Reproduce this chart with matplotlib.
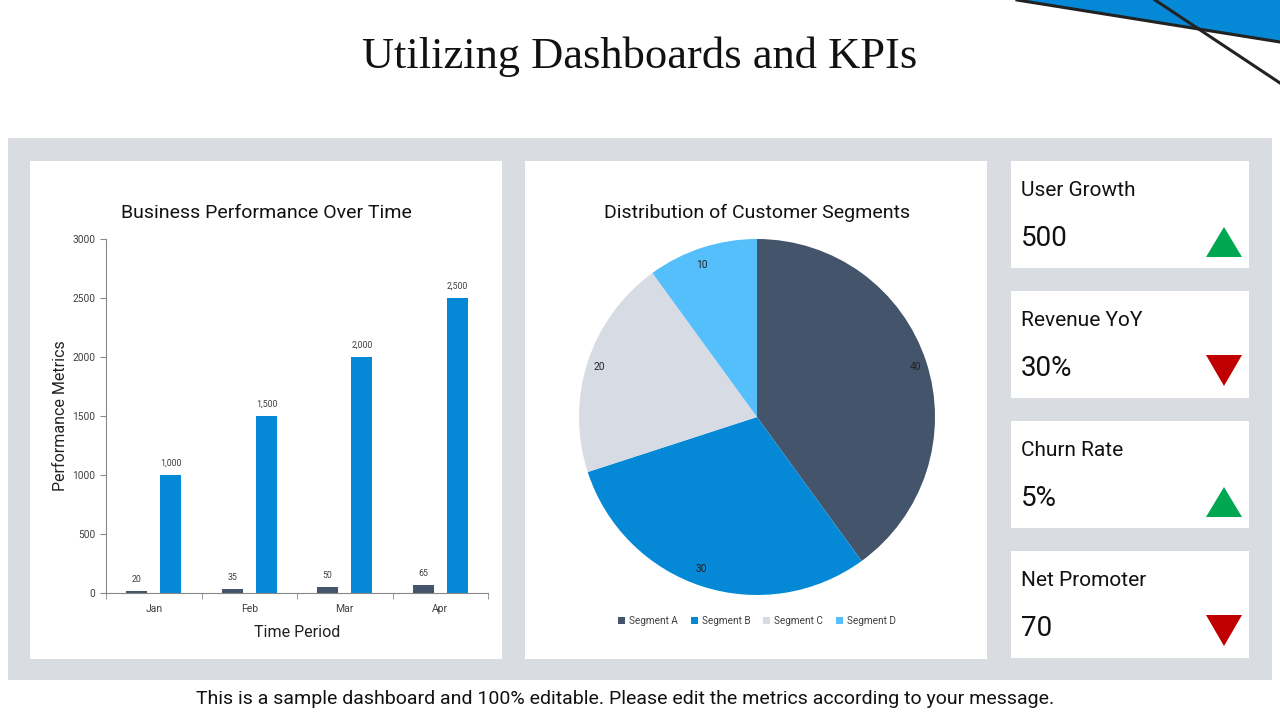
import numpy as np
import matplotlib
matplotlib.use('Agg')
import matplotlib.pyplot as plt
from matplotlib.patches import Rectangle, Polygon

plt.rcParams['font.family'] = ['Roboto', 'DejaVu Sans']

# data
months = ['Jan', 'Feb', 'Mar', 'Apr']
small_vals = [20, 35, 50, 65]
big_vals = [1000, 1500, 2000, 2500]

segments = ['Segment A', 'Segment B', 'Segment C', 'Segment D']
seg_vals = [40, 30, 20, 10]

kpi_names = ['User Growth', 'Revenue YoY', 'Churn Rate', 'Net Promoter']
kpi_values = ['500', '30%', '5%', '70']
kpi_up = [True, False, True, False]

DARK = '#44546A'
BLUE = '#0589D6'
LIGHT = '#D6DBE4'
SKY = '#55BFFC'
PANEL = '#D9DCE1'

W, H = 1280, 720
fig = plt.figure(figsize=(12.8, 7.2), dpi=100)
fig.patch.set_facecolor('white')


def frac(x0, y0, x1, y1):
    # pixel box (top-left origin) -> figure fraction
    return [x0 / W, 1 - y1 / H, (x1 - x0) / W, (y1 - y0) / H]


bg = fig.add_axes([0, 0, 1, 1])
bg.set_xlim(0, W)
bg.set_ylim(H, 0)
bg.axis('off')

# corner decoration
bg.add_patch(Polygon([(1017, 0), (1280, 0), (1280, 42)], closed=True,
                     facecolor=BLUE, edgecolor='none'))
bg.plot([1017, 1280], [0, 42], color='#222222', lw=2.2)
bg.plot([1155, 1280], [0, 83], color='#222222', lw=2.2)

bg.text(640, 57, 'Utilizing Dashboards and KPIs', ha='center', va='center',
        fontsize=32, family=['Liberation Serif', 'DejaVu Serif'], color='#111111')

# gray panel and white cards
bg.add_patch(Rectangle((8, 138), 1264, 542, facecolor=PANEL, edgecolor='none'))
bg.add_patch(Rectangle((30, 161), 472, 498, facecolor='white', edgecolor='none'))
bg.add_patch(Rectangle((525, 161), 462, 498, facecolor='white', edgecolor='none'))

card_tops = [161, 291, 421, 551]
for top, name, val, up in zip(card_tops, kpi_names, kpi_values, kpi_up):
    bg.add_patch(Rectangle((1011, top), 238, 107, facecolor='white', edgecolor='none'))
    bg.text(1021, top + 30, name, ha='left', va='center', fontsize=15, color='#111111')
    bg.text(1021, top + 77, val, ha='left', va='center', fontsize=20, color='#111111')
    if up:
        bg.add_patch(Polygon([(1206, top + 96), (1242, top + 96), (1224, top + 66)],
                             closed=True, facecolor='#00A650', edgecolor='none'))
    else:
        bg.add_patch(Polygon([(1206, top + 64), (1242, top + 64), (1224, top + 95)],
                             closed=True, facecolor='#C00000', edgecolor='none'))

bg.text(625, 699, 'This is a sample dashboard and 100% editable. Please edit the metrics according to your message.',
        ha='center', va='center', fontsize=14, color='#111111')

# bar chart
ax = fig.add_axes(frac(106, 239, 488, 593))
x = np.arange(len(months))
ax.bar(x - 0.18, small_vals, width=0.22, color=DARK)
ax.bar(x + 0.18, big_vals, width=0.22, color=BLUE)
for xi, s, b in zip(x, small_vals, big_vals):
    ax.text(xi - 0.18, s + 60, f'{s:,}', ha='center', va='bottom', fontsize=6.3, color='#404040')
    ax.text(xi + 0.18, b + 60, f'{b:,}', ha='center', va='bottom', fontsize=6.3, color='#404040')
ax.set_xlim(-0.5, 3.5)
ax.set_ylim(0, 3000)
ax.set_yticks([0, 500, 1000, 1500, 2000, 2500, 3000])
ax.set_xticks(x)
ax.set_xticklabels(months)
ax.set_xticks(np.arange(-0.5, 4.0, 1.0), minor=True)
ax.tick_params(axis='x', which='major', length=0, labelsize=7.5, labelcolor='#404040', pad=8)
ax.tick_params(axis='x', which='minor', length=4, color='#888888', direction='out')
ax.tick_params(axis='y', length=4, color='#888888', labelsize=7.3, labelcolor='#404040')
for sp in ['top', 'right']:
    ax.spines[sp].set_visible(False)
ax.spines['left'].set_color('#888888')
ax.spines['bottom'].set_color('#888888')
ax.set_facecolor('white')
ax.set_ylabel('Performance Metrics', fontsize=11.5, color='#222222')
ax.yaxis.set_label_coords(-0.10, 0.5)
ax.set_xlabel('Time Period', fontsize=11.5, color='#222222')
ax.xaxis.set_label_coords(0.5, -0.09)
ax.set_title('Business Performance Over Time', fontsize=14, color='#111111',
             pad=15, x=(266 - 106) / (488 - 106))

# pie chart
pax = fig.add_axes(frac(579, 239, 935, 595))
wedges, texts = pax.pie(seg_vals, colors=[DARK, BLUE, LIGHT, SKY], startangle=90,
                        counterclock=False, labels=[str(v) for v in seg_vals],
                        labeldistance=0.9, textprops={'fontsize': 7.3, 'color': '#222222'})
pax.set_xlim(-1, 1)
pax.set_ylim(-1, 1)
pax.set_aspect('equal')
pax.set_title('Distribution of Customer Segments', fontsize=14, color='#111111', pad=15)
pax.legend(wedges, segments, loc='upper center', bbox_to_anchor=(0.5, -0.035), ncol=4,
           frameon=False, fontsize=7.2, handlelength=0.7, handleheight=0.7,
           columnspacing=1.3, handletextpad=0.4, labelcolor='#404040')

fig.savefig('out.png', dpi=100, facecolor='white')
